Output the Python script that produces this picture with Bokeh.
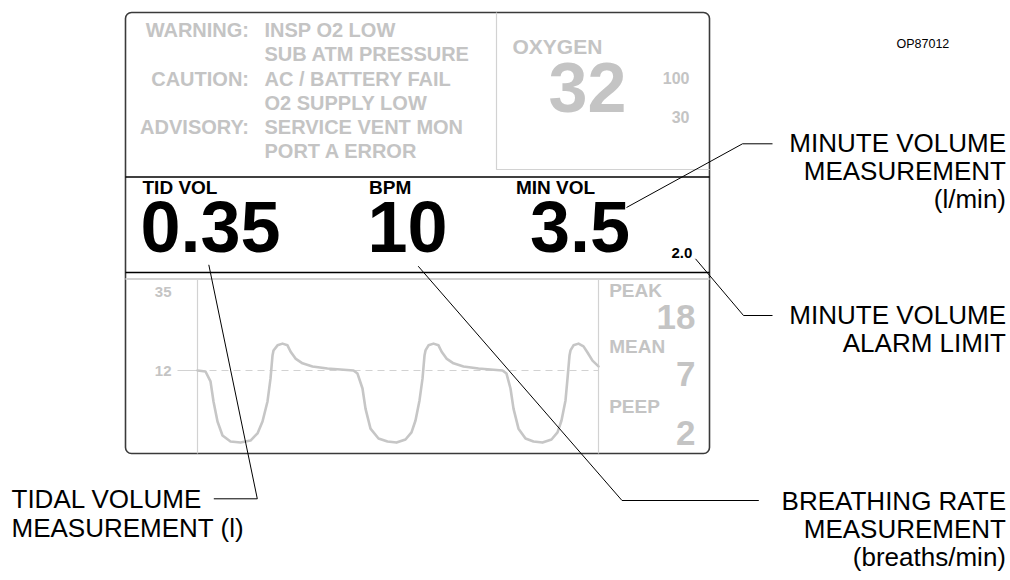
from bokeh.plotting import figure
from bokeh.models import Range1d
from bokeh.core.properties import value
from bokeh.embed import file_html
from bokeh.resources import INLINE

# ---------------- data ----------------
alarm_levels = ["WARNING:", "CAUTION:", "ADVISORY:"]
alarm_messages = ["INSP O2 LOW", "SUB ATM PRESSURE", "AC / BATTERY FAIL",
                  "O2 SUPPLY LOW", "SERVICE VENT MON", "PORT A ERROR"]
oxygen_label = "OXYGEN"
oxygen_value = "32"
oxygen_limits = ["100", "30"]
vital_labels = ["TID VOL", "BPM", "MIN VOL"]
vital_values = ["0.35", "10", "3.5"]
min_vol_alarm = "2.0"
scale_ticks = [35, 12]
stat_labels = ["PEAK", "MEAN", "PEEP"]
stat_values = ["18", "7", "2"]
# airway pressure waveform (time in s, pressure)
wave_t = [0.00, 0.32, 0.52, 0.64, 0.80, 1.00, 1.32, 1.72, 2.12, 2.40, 2.60, 2.80, 2.92, 3.00, 3.04,
          3.20, 3.40, 3.60, 3.72, 3.92, 4.20, 4.60, 5.20, 6.24,
          6.40, 6.60, 6.72, 6.92, 7.24, 7.60, 7.96, 8.32, 8.56, 8.72, 8.88, 9.00, 9.08, 9.12,
          9.24, 9.44, 9.64, 9.76, 9.96, 10.24, 10.64, 11.24, 12.20,
          12.36, 12.52, 12.64, 12.84, 13.12, 13.44, 13.80, 14.16, 14.40, 14.56, 14.72, 14.80, 14.88, 14.92,
          15.04, 15.24, 15.44, 15.60, 15.80, 16.04]
wave_p = [12.0, 11.7, 8.8, 2.9, -3.0, -7.1, -8.9, -9.2, -8.6, -6.5, -3.0, 2.9, 9.6, 16.4, 17.9,
          19.4, 19.9, 19.4, 17.6, 15.5, 14.1, 13.2, 12.6, 12.0,
          11.1, 6.7, 0.8, -5.1, -8.0, -8.9, -9.2, -8.3, -6.2, -2.7, 3.2, 9.6, 16.4, 17.9,
          19.4, 19.9, 19.4, 17.6, 15.5, 14.1, 13.2, 12.6, 12.0,
          11.1, 6.7, 0.8, -5.1, -8.0, -8.9, -9.2, -8.3, -6.2, -2.7, 3.2, 9.6, 16.4, 17.9,
          19.4, 19.9, 19.1, 17.3, 14.9, 13.2]
baseline_p = 12
callout_minvol = ["MINUTE VOLUME", "MEASUREMENT", "(l/min)"]
callout_alarm = ["MINUTE VOLUME", "ALARM LIMIT"]
callout_bpm = ["BREATHING RATE", "MEASUREMENT", "(breaths/min)"]
callout_tidal = ["TIDAL VOLUME", "MEASUREMENT (l)"]
figure_id = "OP87012"

# ---------------- figure ----------------
FONT = "Liberation Sans"
GRAY = "#c4c4c4"
LGRAY = "#d2d2d2"
W, H = 1010, 580

p = figure(width=W, height=H, output_backend="svg", toolbar_location=None,
           x_range=Range1d(0, W), y_range=Range1d(H, 0),
           min_border=0, outline_line_color=None)
p.axis.visible = False
p.grid.visible = False
p.background_fill_color = "white"

# waveform scales: 25 px per second, 3.4 px per pressure unit
t0_px, px_per_s = 197.0, 25.0
p0_px, px_per_unit = 370.0, 3.4
p.extra_x_ranges = {"t": Range1d((0 - t0_px) / px_per_s, (W - t0_px) / px_per_s)}
p.extra_y_ranges = {"paw": Range1d(baseline_p - (H - p0_px) / px_per_unit,
                                   baseline_p + (p0_px - 0) / px_per_unit)}


def txt(xs, ys, texts, size, color, align, bold=True):
    # ys are baselines; place by the middle of the capital letters
    yc = [y - 0.355 * size for y in ys]
    p.text(x=xs, y=yc, text=texts, text_font=value(FONT),
           text_font_size=value(f"{size}px"), text_color=color,
           text_align=align, text_baseline="middle",
           text_font_style="bold" if bold else "normal")


# frame
try:
    p.quad(left=[125], right=[709], top=[12], bottom=[453], fill_color=None,
           line_color="#3a3a3a", line_width=1.6, border_radius=6)
except Exception:
    p.quad(left=[125], right=[709], top=[12], bottom=[453], fill_color=None,
           line_color="#3a3a3a", line_width=1.6)

# oxygen box
p.line([496, 496, 709], [12, 169, 169], line_color=LGRAY, line_width=1.2)
# black separators
p.segment(x0=[125, 125], y0=[176.5, 272], x1=[709, 709], y1=[176.5, 272],
          line_color="black", line_width=1.4)
# waveform panel gray lines
p.segment(x0=[125], y0=[278.5], x1=[709], y1=[278.5], line_color=LGRAY, line_width=2)
p.segment(x0=[197, 598], y0=[279, 279], x1=[197, 598], y1=[453, 453],
          line_color=LGRAY, line_width=1.2)

# alarm text
txt([248.5] * 3, [36.7, 85.7, 133.5], alarm_levels, 20, GRAY, "right")
txt([264] * 6, [36.7, 61, 85.5, 109.6, 133.5, 157.5], alarm_messages, 20, GRAY, "left")

# oxygen
txt([512], [53.3], [oxygen_label], 21, GRAY, "left")
txt([548], [111.7], [oxygen_value], 70, GRAY, "left")
txt([689, 689], [83.3, 121.7], oxygen_limits, 16, GRAY, "right")

# vitals
txt([142, 368.6, 515.4], [193.3] * 3, vital_labels, 19, "black", "left")
txt([140, 367, 529.5], [252.3] * 3, vital_values, 72, "black", "left")
txt([671], [258.3], [min_vol_alarm], 15, "black", "left")

# waveform
p.line(x=[-0.8, 0], y=[baseline_p, baseline_p], x_range_name="t", y_range_name="paw",
       line_color=LGRAY, line_width=1.2)
p.line(x=[0, wave_t[-1]], y=[baseline_p, baseline_p], x_range_name="t", y_range_name="paw",
       line_color=LGRAY, line_width=1.2, line_dash="7 5")
p.line(x=wave_t, y=wave_p, x_range_name="t", y_range_name="paw",
       line_color="#c6c6c6", line_width=2.6, line_join="round", line_cap="round")
p.text(x=[171, 171], y=scale_ticks, text=[str(v) for v in scale_ticks],
       y_range_name="paw", text_font=value(FONT), text_font_size=value("15px"),
       text_color=GRAY, text_align="right", text_baseline="middle",
       text_font_style="bold")

# stats
txt([608.7] * 3, [296.3, 353, 412.5], stat_labels, 19, GRAY, "left")
txt([695] * 3, [329, 386.3, 444.7], stat_values, 35, GRAY, "right")

# leader lines
LC = "black"
p.line([626, 742, 772], [207, 143.3, 143.3], line_color=LC, line_width=1)
p.line([695, 743, 772], [258.3, 315, 315], line_color=LC, line_width=1)
p.line([208.3, 256.8, 213.3], [264.3, 498.3, 498.3], line_color=LC, line_width=1)
p.line([417.7, 621.5, 758.3], [265.7, 500, 500], line_color=LC, line_width=1)

# callout text
txt([1005.5] * 3, [152, 180, 208], callout_minvol, 26, "black", "right", bold=False)
txt([1005.5] * 2, [324, 352], callout_alarm, 26, "black", "right", bold=False)
txt([1005.5] * 3, [509.5, 537.5, 565.5], callout_bpm, 26, "black", "right", bold=False)
txt([11, 11], [508, 537], callout_tidal, 26, "black", "left", bold=False)
txt([896], [48], [figure_id], 12.5, "black", "left", bold=False)

open("out.html", "w").write(file_html(p, INLINE))
